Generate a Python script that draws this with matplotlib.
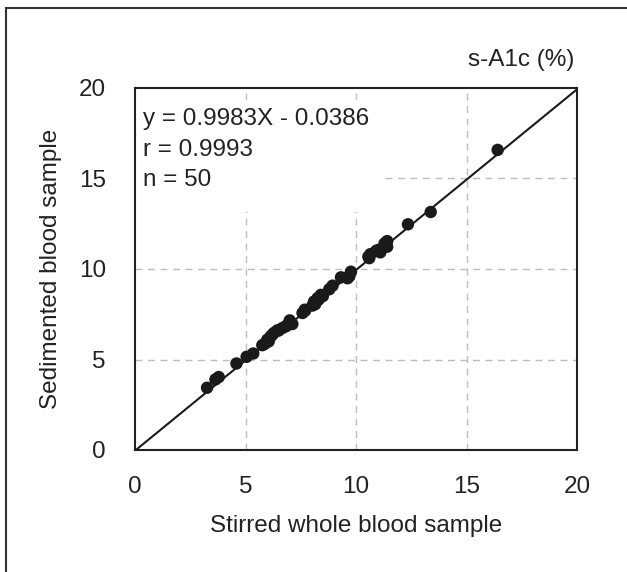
import matplotlib
matplotlib.use("Agg")
import matplotlib.pyplot as plt
from matplotlib.lines import Line2D
from matplotlib.patches import Rectangle

plt.rcParams['font.family'] = ['Liberation Sans', 'DejaVu Sans']

# Data
stirred = [3.26, 3.64, 3.79, 4.59, 5.05, 5.35, 5.76, 5.91, 5.99, 6.14,
           6.29, 6.44, 6.67, 6.82, 7.00, 7.12, 7.58, 7.68, 8.03, 8.10,
           8.26, 8.41, 8.79, 8.94, 9.32, 9.62, 9.77, 10.56, 10.65, 10.91,
           11.10, 11.29, 11.41, 11.41, 12.35, 13.38, 16.41,
           5.85, 6.05, 6.20, 6.50, 6.90, 8.15, 8.30, 8.50, 10.60, 11.00,
           11.30, 9.70, 7.70]
sedimented = [3.44, 3.90, 4.03, 4.78, 5.15, 5.33, 5.79, 5.92, 6.10, 6.28,
              6.47, 6.61, 6.74, 6.83, 7.16, 6.96, 7.57, 7.75, 7.98, 8.20,
              8.39, 8.57, 8.88, 9.08, 9.54, 9.49, 9.85, 10.68, 10.82, 11.00,
              10.92, 11.41, 11.54, 11.23, 12.47, 13.15, 16.58,
              5.85, 6.00, 6.35, 6.60, 6.90, 8.05, 8.30, 8.50, 10.60, 11.05,
              11.30, 9.60, 7.70]
slope, intercept = 0.9983, -0.0386
r_value = 0.9993
n_value = 50
ticks = [0, 5, 10, 15, 20]
tick_labels = ['0', '5', '10', '15', '20']

fig = plt.figure(figsize=(6.27, 5.72), dpi=100)
ax = fig.add_axes([135/627, 122/572, 442/627, 362/572])

ax.set_xlim(0, 20)
ax.set_ylim(0, 20)
ax.set_xticks(ticks)
ax.set_yticks(ticks)
ax.set_xticklabels(tick_labels)
ax.set_yticklabels(tick_labels)
ax.tick_params(length=0, labelsize=17.5, colors='#222222', pad=19)
ax.tick_params(axis='y', pad=21)

for s in ax.spines.values():
    s.set_color('#222222')
    s.set_linewidth(1.5)

# dashed grid lines (interior only)
for t in ticks[1:-1]:
    ax.axvline(t, color='#bdbdbd', lw=1.0, ls=(0, (5, 4)), zorder=1)
    ax.axhline(t, color='#bdbdbd', lw=1.0, ls=(0, (5, 4)), zorder=1)

# white text box covering grid in upper-left
ax.add_patch(Rectangle((0.0, 0.657), 0.56, 0.31, transform=ax.transAxes,
                       facecolor='white', edgecolor='none', zorder=2))

xs = [0, 20]
ax.plot(xs, [slope * x + intercept for x in xs], color='#1a1a1a', lw=1.5, zorder=3)
ax.scatter(stirred, sedimented, s=80, color='#1a1a1a', edgecolors='none', zorder=4)

ax.text(0.018, 0.914, f'y = {slope}X - {abs(intercept)}', transform=ax.transAxes,
        fontsize=17.5, va='center', ha='left', color='#222222', zorder=5)
ax.text(0.018, 0.829, f'r = {r_value}', transform=ax.transAxes,
        fontsize=17.5, va='center', ha='left', color='#222222', zorder=5)
ax.text(0.018, 0.746, f'n = {n_value}', transform=ax.transAxes,
        fontsize=17.5, va='center', ha='left', color='#222222', zorder=5)

ax.text(0.995, 1.077, 's-A1c (%)', transform=ax.transAxes, fontsize=17.5,
        va='center', ha='right', color='#222222')

ax.set_xlabel('Stirred whole blood sample', fontsize=17.5, color='#222222', labelpad=12)
ax.set_ylabel('Sedimented blood sample', fontsize=17.5, color='#222222', labelpad=12)

# partial frame around the figure (left and top edges)
fig.add_artist(Line2D([6/627, 6/627], [0, 1 - 8/572], transform=fig.transFigure,
                      color='#333333', lw=1.5))
fig.add_artist(Line2D([6/627, 1], [1 - 8/572, 1 - 8/572], transform=fig.transFigure,
                      color='#333333', lw=1.5))

fig.savefig('out.png', dpi=100)
